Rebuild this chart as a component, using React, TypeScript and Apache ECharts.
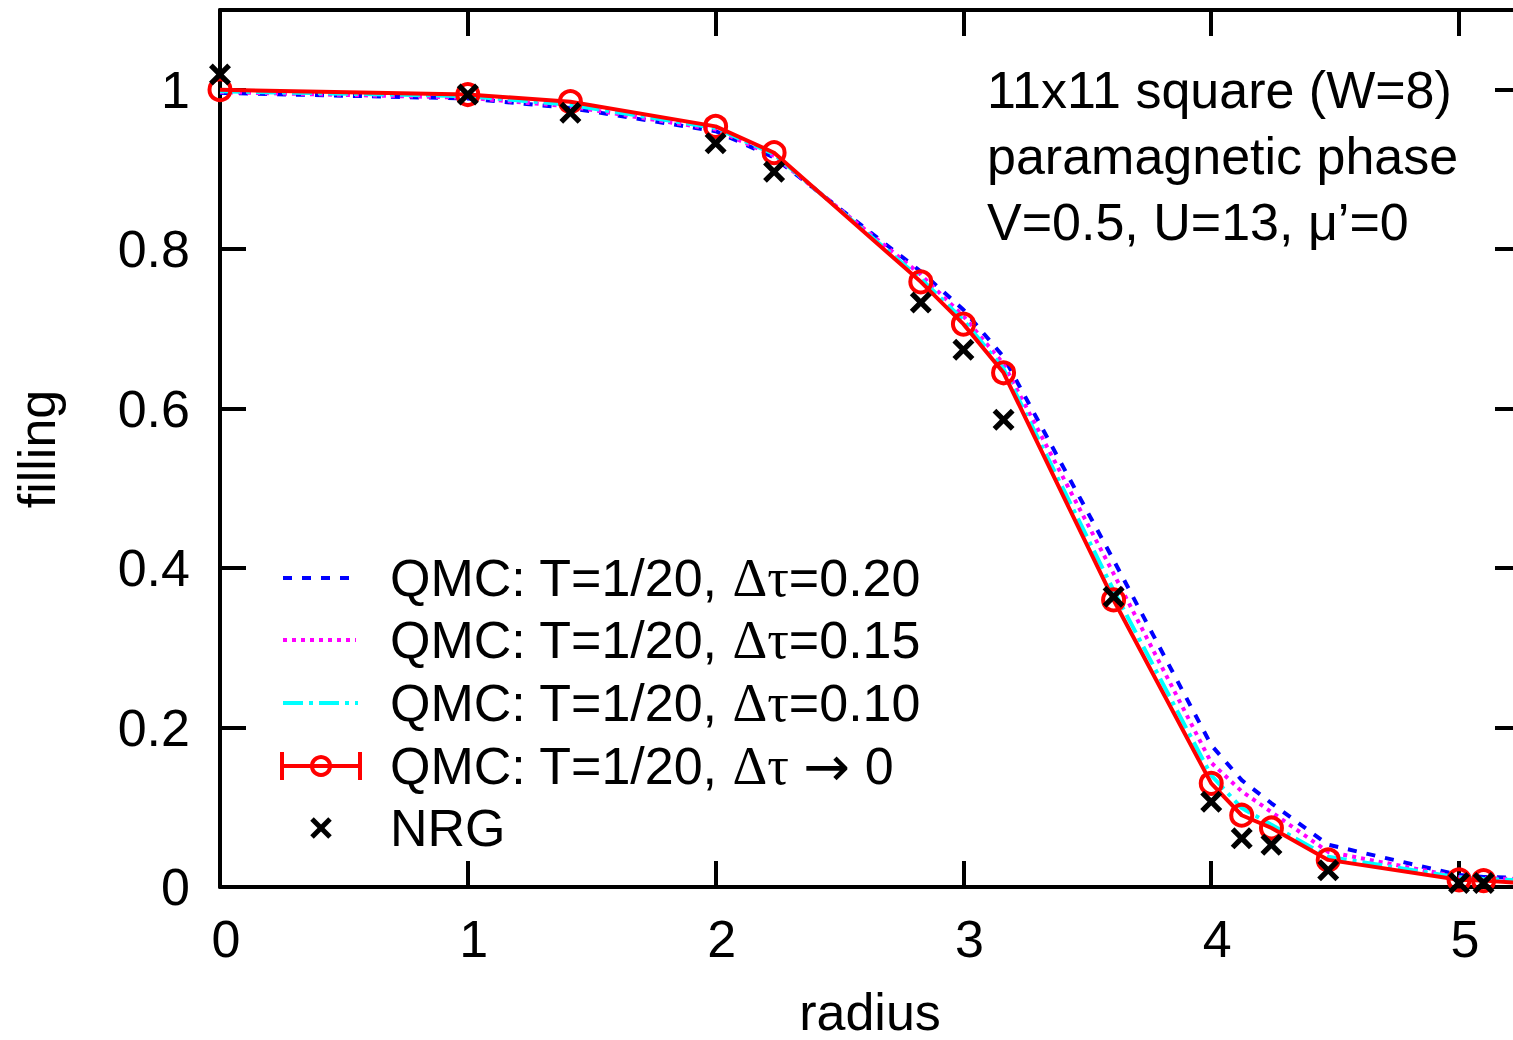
import React, { useEffect, useRef } from "react";
import * as echarts from "echarts";

// radius of each lattice shell (11x11 square)
const radii = [0, 1, 1.414, 2, 2.236, 2.828, 3, 3.162, 3.606, 4, 4.123, 4.243, 4.472, 5, 5.099, 5.385];
// QMC filling, dtau = 0.20
const qmc020 = [0.996, 0.989, 0.977, 0.948, 0.915, 0.772, 0.724, 0.665, 0.41, 0.178, 0.134, 0.105, 0.053, 0.015, 0.0125, 0.011];
// QMC filling, dtau = 0.15
const qmc015 = [0.997, 0.99, 0.979, 0.95, 0.917, 0.768, 0.716, 0.656, 0.393, 0.156, 0.12, 0.094, 0.044, 0.0125, 0.011, 0.009];
// QMC filling, dtau = 0.10
const qmc010 = [0.998, 0.992, 0.981, 0.952, 0.919, 0.763, 0.711, 0.65, 0.372, 0.14, 0.099, 0.078, 0.038, 0.012, 0.01, 0.007];
// QMC filling, dtau -> 0
const qmcExtrap = [1.0, 0.994, 0.985, 0.954, 0.921, 0.759, 0.706, 0.645, 0.36, 0.13, 0.09, 0.074, 0.034, 0.009, 0.008, 0.002];
// NRG filling
const nrg = [1.019, 0.994, 0.971, 0.933, 0.897, 0.733, 0.674, 0.586, 0.364, 0.107, 0.061, 0.053, 0.021, 0.005, 0.005, null];

const seriesNames = [
  "QMC: T=1/20, Δτ=0.20",
  "QMC: T=1/20, Δτ=0.15",
  "QMC: T=1/20, Δτ=0.10",
  "QMC: T=1/20, Δτ → 0",
  "NRG",
];
const annotationLines = ["11x11 square (W=8)", "paramagnetic phase", "V=0.5, U=13, μ’=0"];
const xAxisName = "radius";
const yAxisName = "filling";

const FONT = "'Liberation Sans', Arial, Helvetica, sans-serif";
const SERIF = "'Liberation Serif', 'Times New Roman', serif";
const FS = 52;
const CROSS =
  "path://M0,1.7L1.7,0L5,3.3L8.3,0L10,1.7L6.7,5L10,8.3L8.3,10L5,6.7L1.7,10L0,8.3L3.3,5Z";

function pairs(vals: (number | null)[]) {
  const out: number[][] = [];
  radii.forEach((r, i) => {
    const v = vals[i];
    if (v !== null && v !== undefined) out.push([r, v]);
  });
  return out;
}

// turn a legend label into rich text: Greek in a serif face, arrow in DejaVu
function toRich(s: string) {
  const parts = s.split(/(Δτ|→)/);
  return parts
    .filter((p) => p.length > 0)
    .map((p) => {
      if (p === "Δτ") return `{g|${p}}`;
      if (p === "→") return `{r|${p}}`;
      return `{n|${p}}`;
    })
    .join("");
}

export default function App() {
  const ref = useRef<HTMLDivElement>(null);
  useEffect(() => {
    if (!ref.current) return;
    const chart = echarts.init(ref.current, null, { renderer: "svg" });

    const axisCommon = {
      axisLine: { show: true, onZero: false, lineStyle: { color: "#000", width: 4 } },
      axisTick: { show: true, inside: true, length: 26, lineStyle: { color: "#000", width: 4 } },
      splitLine: { show: false },
    };

    const plainText = (text: string, x: number, y: number, align = "left", extra: any = {}) => ({
      type: "text",
      x,
      y,
      ...extra,
      style: {
        text,
        fill: "#000",
        font: `${FS}px ${FONT}`,
        align,
        verticalAlign: "middle",
      },
      z: 100,
    });

    const richText = (text: string, x: number, y: number) => ({
      type: "text",
      x,
      y,
      style: {
        text: toRich(text),
        fill: "#000",
        font: `${FS}px ${FONT}`,
        align: "left",
        verticalAlign: "middle",
        rich: {
          n: { font: `${FS}px ${FONT}`, fill: "#000" },
          g: { font: `${FS + 2}px ${SERIF}`, fill: "#000" },
          r: { font: `${FS + 4}px 'DejaVu Sans', sans-serif`, fill: "#000" },
        },
      },
      z: 100,
    });

    const legendRowsY = [578, 640, 703, 766, 828];
    const legendGraphics: any[] = [];
    legendGraphics.push({
      type: "line",
      shape: { x1: 283, y1: legendRowsY[0], x2: 358, y2: legendRowsY[0] },
      style: { stroke: "#0000ff", lineWidth: 4, lineDash: [9, 10] },
    });
    legendGraphics.push({
      type: "line",
      shape: { x1: 283, y1: legendRowsY[1], x2: 356, y2: legendRowsY[1] },
      style: { stroke: "#ff00ff", lineWidth: 4, lineDash: [4, 5] },
    });
    legendGraphics.push({
      type: "line",
      shape: { x1: 283, y1: legendRowsY[2], x2: 358, y2: legendRowsY[2] },
      style: { stroke: "#00ffff", lineWidth: 4, lineDash: [20, 6, 4, 6] },
    });
    legendGraphics.push({
      type: "line",
      shape: { x1: 282, y1: legendRowsY[3], x2: 360, y2: legendRowsY[3] },
      style: { stroke: "#ff0000", lineWidth: 4 },
    });
    legendGraphics.push({
      type: "line",
      shape: { x1: 282, y1: legendRowsY[3] - 14, x2: 282, y2: legendRowsY[3] + 14 },
      style: { stroke: "#ff0000", lineWidth: 4 },
    });
    legendGraphics.push({
      type: "line",
      shape: { x1: 360, y1: legendRowsY[3] - 14, x2: 360, y2: legendRowsY[3] + 14 },
      style: { stroke: "#ff0000", lineWidth: 4 },
    });
    legendGraphics.push({
      type: "circle",
      shape: { cx: 321, cy: legendRowsY[3], r: 9 },
      style: { stroke: "#ff0000", lineWidth: 4, fill: "none" },
    });
    legendGraphics.push({
      type: "line",
      shape: { x1: 312, y1: legendRowsY[4] - 9, x2: 330, y2: legendRowsY[4] + 9 },
      style: { stroke: "#000", lineWidth: 5 },
    });
    legendGraphics.push({
      type: "line",
      shape: { x1: 330, y1: legendRowsY[4] - 9, x2: 312, y2: legendRowsY[4] + 9 },
      style: { stroke: "#000", lineWidth: 5 },
    });
    seriesNames.forEach((n, i) => legendGraphics.push(richText(n, 390, legendRowsY[i])));

    const annotY = [90, 156, 222];
    const annotGraphics = annotationLines.map((t, i) => plainText(t, 987, annotY[i]));

    const option: any = {
      animation: false,
      backgroundColor: "#fff",
      textStyle: { fontFamily: FONT },
      grid: { left: 220, top: 10, right: 19, bottom: 153, containLabel: false },
      xAxis: [
        {
          type: "value",
          min: 0,
          max: 5.25,
          interval: 1,
          position: "bottom",
          ...axisCommon,
          axisLabel: {
            show: true,
            color: "#000",
            fontSize: FS,
            fontFamily: FONT,
            margin: 26,
            padding: [0, 0, 0, 12],
            formatter: (v: number) => (Number.isInteger(v) ? String(v) : ""),
          },
        },
        {
          type: "value",
          min: 0,
          max: 5.25,
          interval: 1,
          position: "top",
          ...axisCommon,
          axisLabel: { show: false },
        },
      ],
      yAxis: [
        {
          type: "value",
          min: 0,
          max: 1.1,
          interval: 0.2,
          position: "left",
          ...axisCommon,
          axisLabel: {
            show: true,
            color: "#000",
            fontSize: FS,
            fontFamily: FONT,
            margin: 30,
            formatter: (v: number) => (v > 1.05 ? "" : String(Math.round(v * 10) / 10)),
          },
        },
        {
          type: "value",
          min: 0,
          max: 1.1,
          interval: 0.2,
          position: "right",
          ...axisCommon,
          axisLabel: { show: false },
        },
      ],
      series: [
        {
          name: seriesNames[0],
          type: "line",
          data: pairs(qmc020),
          showSymbol: false,
          symbol: "none",
          lineStyle: { color: "#0000ff", width: 4, type: [9, 10] },
          z: 2,
        },
        {
          name: seriesNames[1],
          type: "line",
          data: pairs(qmc015),
          showSymbol: false,
          symbol: "none",
          lineStyle: { color: "#ff00ff", width: 4, type: [4, 5] },
          z: 3,
        },
        {
          name: seriesNames[2],
          type: "line",
          data: pairs(qmc010),
          showSymbol: false,
          symbol: "none",
          lineStyle: { color: "#00ffff", width: 4, type: [20, 6, 4, 6] },
          z: 4,
        },
        {
          name: seriesNames[3],
          type: "line",
          data: pairs(qmcExtrap),
          symbol: "circle",
          symbolSize: 21,
          showSymbol: true,
          itemStyle: { color: "rgba(0,0,0,0)", borderColor: "#ff0000", borderWidth: 4 },
          lineStyle: { color: "#ff0000", width: 4 },
          clip: true,
          z: 5,
        },
        {
          name: seriesNames[4],
          type: "scatter",
          data: pairs(nrg),
          symbol: CROSS,
          symbolSize: 22,
          itemStyle: { color: "#000", opacity: 1 },
          clip: true,
          z: 6,
        },
      ],
      graphic: [
        ...legendGraphics,
        ...annotGraphics,
        plainText(xAxisName, 870, 1012, "center"),
        plainText(yAxisName, 37, 449, "center", { rotation: Math.PI / 2 }),
      ],
    };
    chart.setOption(option);
    return () => chart.dispose();
  }, []);

  return (
    <div
      style={{
        position: "absolute",
        left: 0,
        top: 0,
        width: 1513,
        height: 1040,
        overflow: "hidden",
        background: "#fff",
      }}
    >
      <div ref={ref} style={{ width: 1540, height: 1040 }} />
    </div>
  );
}
